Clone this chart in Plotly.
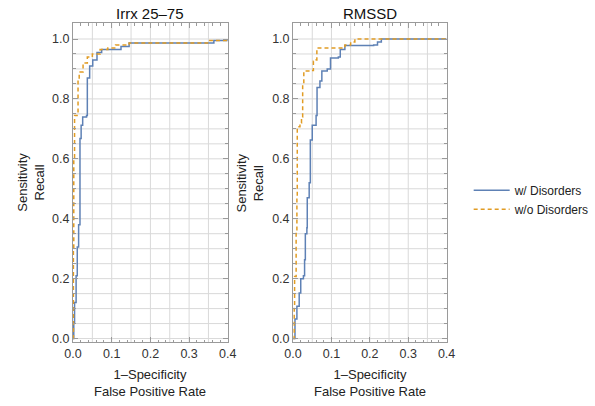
import plotly.graph_objects as go

# ROC curve vertices (false positive rate, sensitivity), drawn as steps
irrx_fpr_with = [0.000, 0.002, 0.004, 0.008, 0.011, 0.0145, 0.018, 0.018, 0.021, 0.025, 0.035,
                 0.037, 0.043, 0.051, 0.062, 0.074, 0.124, 0.145, 0.364, 0.400]
irrx_tpr_with = [0.000, 0.053, 0.120, 0.210, 0.306, 0.380, 0.470, 0.668, 0.712, 0.740, 0.745,
                 0.870, 0.910, 0.930, 0.955, 0.965, 0.975, 0.987, 0.995, 0.995]
irrx_fpr_without = [0.000, 0.001, 0.002, 0.004, 0.013, 0.016, 0.026, 0.037, 0.050, 0.070,
                    0.090, 0.110, 0.145, 0.350, 0.400]
irrx_tpr_without = [0.000, 0.300, 0.600, 0.745, 0.866, 0.890, 0.920, 0.940, 0.950, 0.965,
                    0.970, 0.980, 0.987, 0.995, 0.995]

rmssd_fpr_with = [0.000, 0.005, 0.010, 0.016, 0.020, 0.027, 0.030, 0.032, 0.036, 0.037, 0.042,
                  0.045, 0.050, 0.060, 0.0625, 0.070, 0.075, 0.089, 0.0975, 0.118, 0.123,
                  0.135, 0.210, 0.220, 0.230, 0.400]
rmssd_tpr_with = [0.000, 0.065, 0.108, 0.152, 0.200, 0.210, 0.263, 0.350, 0.370, 0.470, 0.520,
                  0.663, 0.712, 0.745, 0.838, 0.860, 0.893, 0.900, 0.937, 0.940, 0.965,
                  0.978, 0.980, 0.990, 1.000, 1.000]
rmssd_fpr_without = [0.000, 0.003, 0.004, 0.008, 0.010, 0.011, 0.018, 0.022, 0.025, 0.028,
                     0.0475, 0.053, 0.060, 0.062, 0.127, 0.135, 0.150, 0.161, 0.400]
rmssd_tpr_without = [0.000, 0.100, 0.207, 0.360, 0.470, 0.707, 0.720, 0.740, 0.850, 0.893,
                     0.895, 0.926, 0.930, 0.970, 0.975, 0.980, 0.990, 1.000, 1.000]

panel_titles = ["Irrx 25\u201375", "RMSSD"]
series_names = ["w/ Disorders", "w/o Disorders"]
x_tick_vals = [0.0, 0.1, 0.2, 0.3, 0.4]
y_tick_vals = [0.0, 0.2, 0.4, 0.6, 0.8, 1.0]
grid_x = [0.05 * i for i in range(1, 8)]
grid_y = [0.05 * i for i in range(0, 21)]

BLUE = "#5E81B5"
ORANGE = "#E19C24"
FONT = "Liberation Sans"
W, H = 595, 406

x_domains = [[66.7 / W, 228.0 / W], [296.0 / W, 456.0 / W]]
y_domain = [1 - 345.0 / H, 1 - 23.3 / H]

fig = go.Figure()

panels = [
    (irrx_fpr_with, irrx_tpr_with, irrx_fpr_without, irrx_tpr_without),
    (rmssd_fpr_with, rmssd_tpr_with, rmssd_fpr_without, rmssd_tpr_without),
]

for i, (fx1, ty1, fx2, ty2) in enumerate(panels):
    xa = "x" if i == 0 else "x2"
    ya = "y" if i == 0 else "y2"
    fig.add_trace(go.Scatter(x=fx1, y=ty1, mode="lines", line_shape="hv",
                             line=dict(color=BLUE, width=1.5),
                             name=series_names[0], legendgroup="a",
                             showlegend=(i == 0), xaxis=xa, yaxis=ya))
    fig.add_trace(go.Scatter(x=fx2, y=ty2, mode="lines", line_shape="hv",
                             line=dict(color=ORANGE, width=1.5, dash="4px,3px"),
                             name=series_names[1], legendgroup="b",
                             showlegend=(i == 0), xaxis=xa, yaxis=ya))

    # light grid behind the curves
    for gx in grid_x:
        fig.add_shape(type="line", xref=xa, yref=f"{ya} domain", x0=gx, x1=gx, y0=0, y1=1,
                      line=dict(color="#d9d9d9", width=1), layer="below")
    for gy in grid_y:
        fig.add_shape(type="line", xref=f"{xa} domain", yref=ya, x0=0, x1=1, y0=gy, y1=gy,
                      line=dict(color="#d9d9d9", width=1), layer="below")

    cx = (x_domains[i][0] + x_domains[i][1]) / 2
    fig.add_annotation(text=panel_titles[i], xref="paper", yref="paper", x=cx, y=1 - 14 / H,
                       showarrow=False, font=dict(family=FONT, size=15, color="#111"),
                       xanchor="center", yanchor="middle")
    fig.add_annotation(text="1\u2013Specificity<br>False Positive Rate", xref="paper", yref="paper",
                       x=cx, y=1 - 386 / H, showarrow=False,
                       font=dict(family=FONT, size=13, color="#222"),
                       xanchor="center", yanchor="middle")
    lx = [23 / W, 251 / W][i]
    fig.add_annotation(text="Sensitivity<br>Recall", xref="paper", yref="paper",
                       x=lx, y=1 - 184 / H, textangle=-90, showarrow=False,
                       font=dict(family=FONT, size=13, color="#222"),
                       xanchor="center", yanchor="middle")

axis_common = dict(showline=True, linecolor="#9a9a9a", linewidth=1, mirror="allticks",
                   ticks="inside", ticklen=5, tickcolor="#9a9a9a", showgrid=False,
                   zeroline=False, tickfont=dict(family=FONT, size=12.5, color="#333"))

for i, key in enumerate(["", "2"]):
    fig.layout[f"xaxis{key}"] = dict(
        domain=x_domains[i], range=[0, 0.4], tickvals=x_tick_vals, tickformat=".1f",
        minor=dict(ticks="inside", ticklen=2.5, dtick=0.02, tickcolor="#9a9a9a", showgrid=False),
        anchor="y" + key, **axis_common)
    fig.layout[f"yaxis{key}"] = dict(
        domain=y_domain, range=[-0.013, 1.053], tickvals=y_tick_vals, tickformat=".1f",
        minor=dict(ticks="inside", ticklen=2.5, dtick=0.05, tickcolor="#9a9a9a", showgrid=False),
        anchor="x" + key, **axis_common)

fig.update_layout(
    width=W, height=H, margin=dict(l=0, r=0, t=0, b=0),
    plot_bgcolor="white", paper_bgcolor="white",
    legend=dict(x=479 / W, y=1 - 177 / H, xanchor="left", yanchor="top", itemwidth=36,
                font=dict(family=FONT, size=12, color="#222"), tracegroupgap=0,
                bgcolor="rgba(0,0,0,0)"),
)

fig.write_html("out.html")
